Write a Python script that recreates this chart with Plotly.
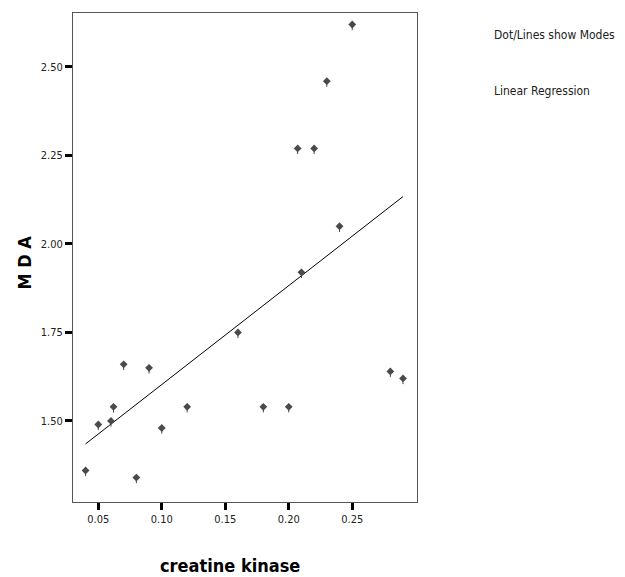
import numpy as np
import plotly.graph_objects as go

creatine_kinase = [0.04, 0.05, 0.06, 0.062, 0.07, 0.08, 0.09, 0.10, 0.12, 0.16,
                   0.18, 0.20, 0.207, 0.21, 0.22, 0.23, 0.24, 0.25, 0.28, 0.29]
mda = [1.36, 1.49, 1.50, 1.54, 1.66, 1.34, 1.65, 1.48, 1.54, 1.75,
       1.54, 1.54, 2.27, 1.92, 2.27, 2.46, 2.05, 2.62, 1.64, 1.62]
y_ticks = [1.50, 1.75, 2.00, 2.25, 2.50]
x_ticks = [0.05, 0.10, 0.15, 0.20, 0.25]

x = np.array(creatine_kinase)
y = np.array(mda)
slope, intercept = np.polyfit(x, y, 1)
xl = np.linspace(x.min(), x.max(), 50)
yl = slope * xl + intercept

FONT = "DejaVu Sans Condensed, Liberation Sans Narrow, Arial Narrow, Liberation Sans"

fig = go.Figure()
fig.add_trace(go.Scatter(
    x=xl, y=yl, mode="lines", line=dict(color="black", width=1),
    name="Linear Regression", showlegend=False, hoverinfo="skip"))
fig.add_trace(go.Scatter(
    x=creatine_kinase, y=mda, mode="markers",
    marker=dict(symbol="diamond", size=6, color="#4a4a4a"),
    error_y=dict(type="data", symmetric=False, array=[0.008] * len(mda),
                 arrayminus=[0.016] * len(mda), color="#4a4a4a", thickness=1, width=0),
    name="Dot/Lines show Modes", showlegend=False))

axis_common = dict(showline=True, linecolor="#555555", linewidth=1, mirror=True,
                   showgrid=False, zeroline=False, ticks="outside", ticklen=7,
                   tickwidth=3, tickcolor="black", automargin=False,
                   tickfont=dict(family=FONT, size=11, color="#222222"))

fig.update_xaxes(range=[0.0301, 0.301], tickvals=x_ticks,
                 ticktext=[f"{v:.2f}" for v in x_ticks], **axis_common)
fig.update_yaxes(range=[1.271, 2.6525], tickvals=y_ticks,
                 ticktext=[f"{v:.2f}" for v in y_ticks], **axis_common)

fig.add_annotation(xref="paper", yref="paper", x=0.455, y=0, yshift=-63,
                   text="<b>creatine kinase</b>", showarrow=False, xanchor="center",
                   yanchor="middle", font=dict(family=FONT, size=18, color="black"))
fig.add_annotation(xref="paper", yref="paper", x=0, xshift=-49, y=0.5, yshift=-5,
                   text="<b>M D A</b>", showarrow=False, textangle=-90,
                   xanchor="center", yanchor="middle",
                   font=dict(family=FONT, size=18, color="black"))

fig.add_annotation(xref="paper", yref="paper", x=1.0, y=1.0, xshift=75, yshift=-22,
                   text="Dot/Lines show Modes", showarrow=False, xanchor="left",
                   yanchor="middle", font=dict(family=FONT, size=12, color="#222222"))
fig.add_annotation(xref="paper", yref="paper", x=1.0, y=1.0, xshift=75, yshift=-78,
                   text="Linear Regression", showarrow=False, xanchor="left",
                   yanchor="middle", font=dict(family=FONT, size=12, color="#222222"))

fig.update_layout(width=617, height=569, plot_bgcolor="white", paper_bgcolor="white",
                  margin=dict(l=65, r=208, t=5, b=75), showlegend=False)
fig.write_html("out.html")
